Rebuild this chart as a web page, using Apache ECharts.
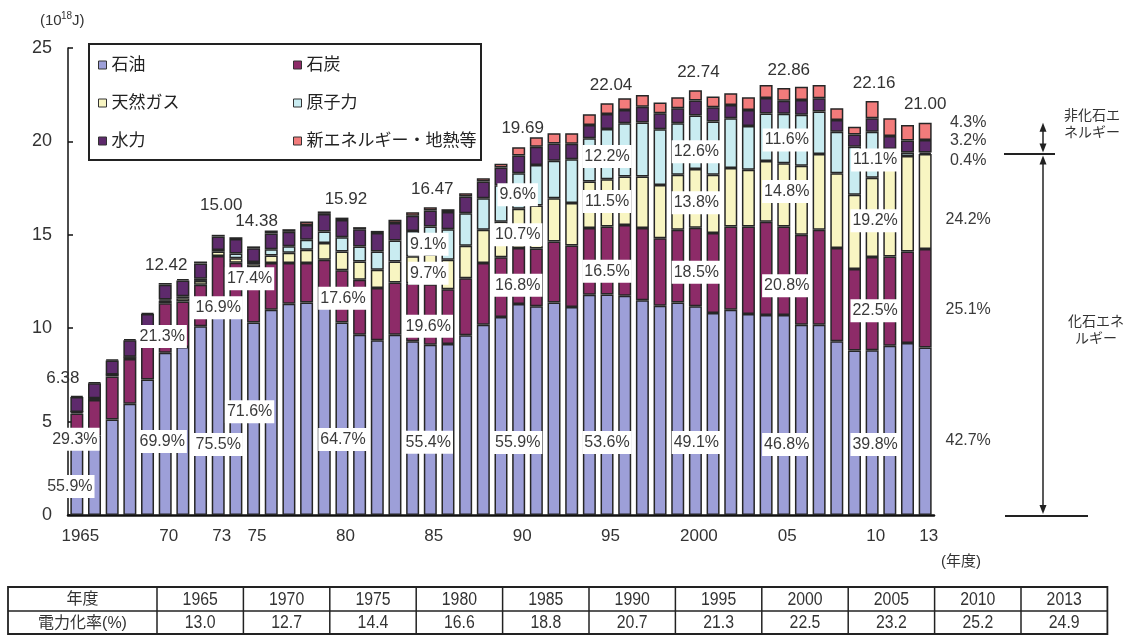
<!DOCTYPE html>
<html><head><meta charset="utf-8">
<script src="https://cdn.jsdelivr.net/npm/echarts@6/dist/echarts.min.js"></script>
<style>html,body{margin:0;padding:0;background:#fff}#c{width:1128px;height:635px}</style>
</head><body><div id="c"></div>
<script>
// ---------- DATA (10^18 J) ----------
const years = ['1965','1966','1967','1968','1969','1970','1971','1972','1973','1974','1975','1976','1977','1978','1979','1980','1981','1982','1983','1984','1985','1986','1987','1988','1989','1990','1991','1992','1993','1994','1995','1996','1997','1998','1999','2000','2001','2002','2003','2004','2005','2006','2007','2008','2009','2010','2011','2012','2013'];
const oil     = [3.57,4.25,5.11,5.96,7.25,8.68,9.00,10.10,11.33,10.80,10.30,10.99,11.31,11.38,11.30,10.30,9.65,9.35,9.65,9.30,9.12,9.15,9.62,10.19,10.60,11.30,11.17,11.38,11.13,11.79,11.81,11.74,11.49,11.20,11.38,11.17,10.81,10.99,10.76,10.70,10.70,10.19,10.19,9.30,8.80,8.82,9.06,9.21,8.97];
const coal    = [1.87,1.90,2.31,2.39,2.55,2.65,2.43,2.23,2.54,2.70,2.95,2.50,2.18,2.11,2.36,2.80,2.94,2.80,2.80,3.10,3.23,2.94,3.06,3.30,3.20,3.00,3.10,3.26,3.30,3.57,3.64,3.79,3.87,3.62,3.89,4.21,4.28,4.45,4.68,5.00,4.75,4.81,5.08,4.99,4.37,4.99,4.78,4.90,5.27];
const gas     = [0.08,0.09,0.09,0.10,0.13,0.15,0.18,0.20,0.23,0.25,0.18,0.40,0.55,0.71,0.90,1.00,0.98,0.98,1.12,1.45,1.60,1.57,1.73,1.78,1.90,2.10,2.30,2.32,2.27,2.49,2.53,2.59,2.76,2.85,2.94,3.14,3.12,3.13,3.04,3.25,3.38,3.69,4.06,4.01,3.97,4.25,4.90,5.11,5.08];
const nuclear = [0.00,0.01,0.01,0.02,0.03,0.05,0.10,0.12,0.09,0.25,0.12,0.33,0.35,0.53,0.62,0.77,0.80,0.98,1.13,1.35,1.50,1.64,1.75,1.69,1.95,1.90,2.17,2.00,2.35,2.32,2.69,2.85,2.89,2.98,2.76,2.87,2.85,2.67,2.35,2.55,2.65,2.73,2.27,2.22,2.58,2.46,0.85,0.18,0.08];
const hydro   = [0.80,0.80,0.75,0.88,0.80,0.80,0.85,0.82,0.72,0.77,0.73,0.85,0.77,0.80,0.94,0.92,0.93,0.98,0.93,0.82,0.85,0.92,0.89,0.89,0.95,0.95,0.98,0.93,0.82,0.71,0.80,0.71,0.85,0.86,0.80,0.80,0.77,0.71,0.85,0.82,0.70,0.80,0.71,0.63,0.65,0.72,0.70,0.65,0.67];
const newEn   = [0.06,0.05,0.05,0.07,0.05,0.09,0.07,0.10,0.09,0.10,0.10,0.16,0.14,0.18,0.13,0.13,0.11,0.12,0.17,0.19,0.17,0.15,0.18,0.18,0.20,0.44,0.50,0.55,0.57,0.57,0.57,0.63,0.63,0.57,0.59,0.55,0.57,0.63,0.68,0.70,0.68,0.71,0.71,0.63,0.42,0.92,0.95,0.83,0.93];

const seriesNames = ['石油','石炭','天然ガス','原子力','水力','新エネルギー・地熱等'];

const xTickYears  = ['1965','1970','1973','1975','1980','1985','1990','1995','2000','2005','2010','2013'];
const xTickLabels = ['1965','70','73','75','80','85','90','95','2000','05','10','13'];

const totalYears = ['1965','1970','1973','1975','1980','1985','1990','1995','2000','2005','2010','2013'];
const totalTexts = ['6.38','12.42','15.00','14.38','15.92','16.47','19.69','22.04','22.74','22.86','22.16','21.00'];

// share labels (text) per labelled year
const shareYears = ['1965','1965','1970','1970','1973','1973','1975','1975','1980','1980',
  '1985','1985','1985','1985','1990','1990','1990','1990','1995','1995','1995','1995',
  '2000','2000','2000','2000','2005','2005','2005','2005','2010','2010','2010','2010'];
const shareTexts = ['55.9%','29.3%','69.9%','21.3%','75.5%','16.9%','71.6%','17.4%','64.7%','17.6%',
  '55.4%','19.6%','9.7%','9.1%','55.9%','16.8%','10.7%','9.6%','53.6%','16.5%','11.5%','12.2%',
  '49.1%','18.5%','13.8%','12.6%','46.8%','20.8%','14.8%','11.6%','39.8%','22.5%','19.2%','11.1%'];
const share2013 = ['4.3%','3.2%','0.4%','24.2%','25.1%','42.7%'];

const tableYears = ['1965','1970','1975','1980','1985','1990','1995','2000','2005','2010','2013'];
const elecRate   = ['13.0','12.7','14.4','16.6','18.8','20.7','21.3','22.5','23.2','25.2','24.9'];

// ---------- LAYOUT (label placement, in axis units / px offsets) ----------
const shareLevel = [1.52,4.05,3.93,9.55,3.77,11.1,5.53,12.65,4.04,11.6,
  3.9,10.1,12.94,14.49,3.88,12.3,15.0,17.14,3.88,13.05,16.78,19.19,
  3.88,13.0,16.71,19.45,3.77,12.27,17.32,20.08,3.77,10.94,15.75,19.0];
const shareDx = [-7,-2,-3,-3,0,0,-4,-4,1,1, -2,-2,-2,-2, -1,-1,-1,-1, 0,0,0,0, 1,1,1,1, 3,3,3,3, 3,3,3,3];
const side2013Level = [21.02,20.03,18.96,15.80,10.99,3.98];
const totalOffset = [[-14,0],[1,0],[3,-11],[3,-7],[4,0],[2,0],[4,-1],[4,0],[3,0],[5,0],[2,0],[0,0]];

const FONT = "'Liberation Sans','Noto Sans CJK JP',sans-serif";
const colors = ['#9d9fd8','#8d2b68','#f8f5c2','#c9ecf1','#5e2a6c','#f27b7b'];
const segData = [oil, coal, gas, nuclear, hydro, newEn];

const totals = years.map((y,i)=> segData.reduce((s,a)=>s+a[i],0));

const barSeries = seriesNames.map((n,k)=>({
  name:n, type:'bar', stack:'all', barWidth:13, data:segData[k],
  itemStyle:{color:colors[k], borderColor:'#262626', borderWidth:1.5},
  emphasis:{disabled:true}, z:2
}));

const HIDDEN = {color:'rgba(0,0,0,0)', opacity:1};
const totalSeries = {
  type:'scatter', symbolSize:1, itemStyle:HIDDEN, silent:true, z:10,
  data: totalYears.map((y,i)=>({name:totalTexts[i], value:[y, totals[years.indexOf(y)]],
        label:{offset:totalOffset[i]}})),
  label:{show:true, opacity:1, position:'top', distance:7.5, formatter:'{b}', fontSize:17, lineHeight:20, color:'#333', fontFamily:FONT}
};
const shareSeries = {
  type:'scatter', symbolSize:1, itemStyle:HIDDEN, silent:true, z:11,
  data: shareYears.map((y,i)=>({name:shareTexts[i], value:[y, shareLevel[i]], label:{offset:[shareDx[i],0]}})),
  label:{show:true, opacity:1, position:'inside', formatter:'{b}', fontSize:16, lineHeight:18, color:'#3a3a3a',
         backgroundColor:'#ffffff', padding:[3,2,2,2], fontFamily:FONT}
};
const sideSeries = {
  type:'scatter', symbolSize:1, itemStyle:HIDDEN, silent:true, z:11,
  data: share2013.map((t,i)=>({name:t, value:['2013', side2013Level[i]]})),
  label:{show:true, opacity:1, position:'inside', offset:[43,0], formatter:'{b}', fontSize:16, color:'#3a3a3a', fontFamily:FONT}
};

const legendCommon = {orient:'vertical', itemGap:18, itemWidth:8, itemHeight:8, icon:'rect', padding:0,
  selectedMode:false, z:5,
  itemStyle:{borderColor:'#333', borderWidth:1},
  textStyle:{fontSize:17, lineHeight:20, color:'#222', fontFamily:FONT}};

const option = {
  animation:false,
  textStyle:{fontFamily:FONT},
  grid:{left:68, right:194, top:48, bottom:120},
  xAxis:{type:'category', data:years,
    axisLine:{lineStyle:{color:'#111', width:2.5}}, axisTick:{show:false},
    axisLabel:{interval:0, hideOverlap:false, fontSize:17, color:'#333', margin:13, padding:[0,0,0,7], fontFamily:FONT,
      formatter:(v)=>{const i=xTickYears.indexOf(v); return i>=0?xTickLabels[i]:'';}}},
  yAxis:{type:'value', min:0, max:25, interval:5,
    axisLine:{show:true, lineStyle:{color:'#111', width:1.5}},
    axisTick:{show:true, inside:true, length:5, lineStyle:{color:'#111', width:1.5}},
    splitLine:{show:false},
    axisLabel:{fontSize:18, color:'#333', margin:16, fontFamily:FONT}},
  legend:[
    Object.assign({data:[seriesNames[0],seriesNames[2],seriesNames[4]], left:98, top:55}, legendCommon),
    Object.assign({data:[seriesNames[1],seriesNames[3],seriesNames[5]], left:293, top:55}, legendCommon)
  ],
  series:[...barSeries, totalSeries, shareSeries, sideSeries]
};

const chart = echarts.init(document.getElementById('c'));
chart.setOption(option);

// ---------- annotations (graphic) ----------
const px = (yr, v) => chart.convertToPixel({xAxisIndex:0, yAxisIndex:0}, [yr, v]);
const iLast = years.length - 1;
const fossil2013 = oil[iLast] + coal[iLast] + gas[iLast];
const topY = px('2013', totals[iLast])[1];
const fossY = px('2013', fossil2013)[1];
const zeroY = px('2013', 0)[1];
const ax = 1043, ink = '#222';
const arrowUp = (y) => ({type:'polygon', shape:{points:[[ax,y],[ax-3.5,y+9],[ax+3.5,y+9]]}, style:{fill:ink}});
const arrowDn = (y) => ({type:'polygon', shape:{points:[[ax,y],[ax-3.5,y-9],[ax+3.5,y-9]]}, style:{fill:ink}});
const line = (x1,y1,x2,y2,w) => ({type:'line', shape:{x1,y1,x2,y2}, style:{stroke:ink, lineWidth:w}});
const txt = (x,y,t,fs,align,extra) => Object.assign({type:'text', x, y, style:{text:t, fontSize:fs, fill:'#333',
  fontFamily:FONT, align:align||'center', verticalAlign:'middle', lineHeight:17}}, extra||{});

const g = [];
// legend box
g.push({type:'rect', z:-1, shape:{x:89, y:44, width:392, height:116}, style:{fill:'#fff', stroke:ink, lineWidth:2}});
// unit
g.push(txt(40,21,'(10',15,'left'));
g.push(txt(61,16,'18',10,'left'));
g.push(txt(72,21,'J)',15,'left'));
// (年度)
g.push(txt(961,562,'(年度)',15,'center'));
// arrows
g.push(line(ax, topY+6, ax, fossY-6, 1.5));
g.push(arrowUp(topY)); g.push(arrowDn(fossY-1.5));
g.push(line(1004, fossY, 1055, fossY, 2));
g.push(line(ax, fossY+6, ax, zeroY-6, 1.5));
g.push(arrowUp(fossY+1.5)); g.push(arrowDn(zeroY-1));
g.push(line(1005, zeroY+1, 1088, zeroY+1, 2));
g.push(txt(1092,125,'非化石エ\nネルギー',14,'center'));
g.push(txt(1096,331,'化石エネ\nルギー',14,'center'));

// table
const tL=8, tC=157, cw=86.4, tT=587, tM=611, tB=634;
const tR = tC + cw*tableYears.length;
g.push({type:'rect', shape:{x:tL, y:tT, width:tR-tL, height:tB-tT}, style:{fill:'#fff', stroke:ink, lineWidth:1.8}});
g.push(line(tL, tM, tR, tM, 1.5));
for (let i=0;i<tableYears.length;i++) g.push(line(tC+cw*i, tT, tC+cw*i, tB, 1.5));
g.push(txt((tL+tC)/2, (tT+tM)/2+1, '年度', 16));
g.push(txt((tL+tC)/2, (tM+tB)/2+1, '電力化率(%)', 16));
tableYears.forEach((y,i)=>{
  const cx = tC + cw*i + cw/2;
  g.push(txt(cx, (tT+tM)/2+1, y, 18, 'center', {scaleX:0.88}));
  g.push(txt(cx, (tM+tB)/2+1, elecRate[i], 18, 'center', {scaleX:0.88}));
});
chart.setOption({graphic:g});
</script></body></html>
